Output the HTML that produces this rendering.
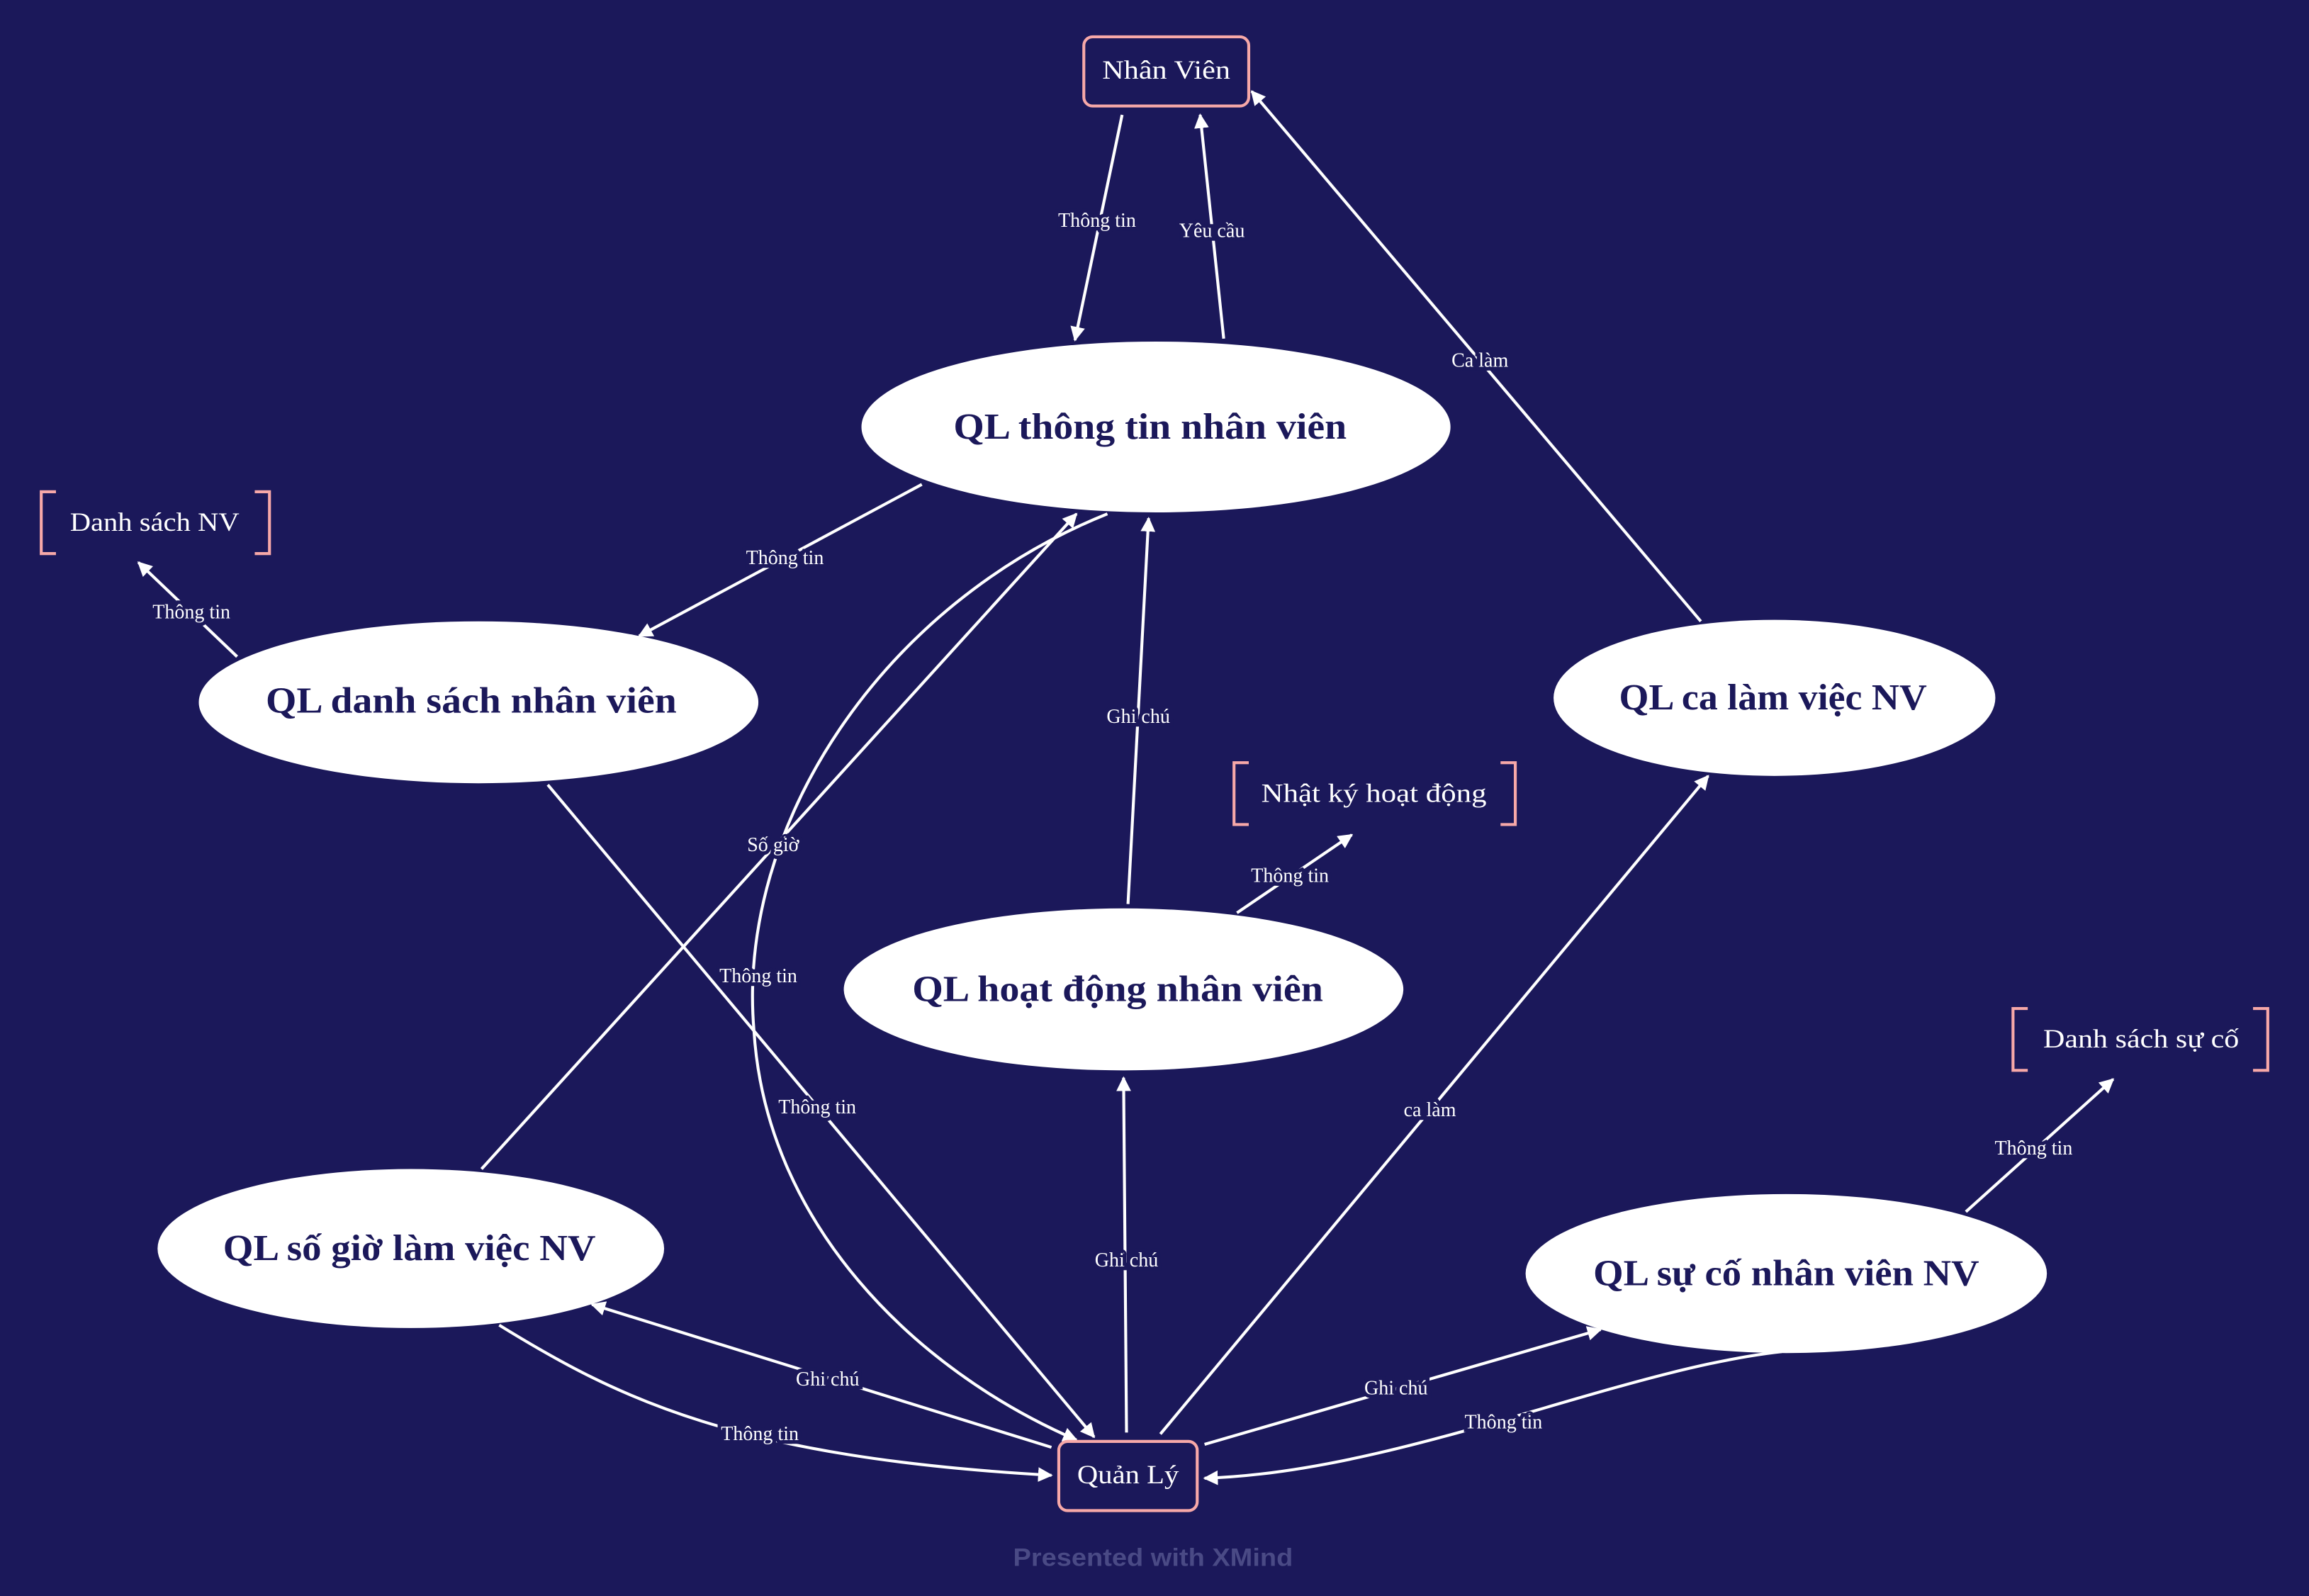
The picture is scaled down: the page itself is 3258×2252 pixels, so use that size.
<!DOCTYPE html>
<html><head><meta charset="utf-8"><style>
html,body{margin:0;padding:0;background:#1b185a;}
svg{display:block}
.n{font-family:"Liberation Serif","DejaVu Serif",serif;font-weight:bold;font-size:25px;fill:#1b185a;text-anchor:middle;dominant-baseline:central}
.b{font-family:"Liberation Serif","DejaVu Serif",serif;font-size:18px;fill:#fff;text-anchor:middle;dominant-baseline:central}
.l{font-family:"Liberation Serif","DejaVu Serif",serif;font-size:13.5px;fill:#fff;text-anchor:middle;dominant-baseline:central;stroke:#1b185a;stroke-width:5px;paint-order:stroke}
.e{stroke:#fff;stroke-width:2;fill:none;marker-end:url(#a)}
</style></head><body>
<svg width="3258" height="2252" viewBox="0 0 1568 1084" preserveAspectRatio="none">
<defs><marker id="a" viewBox="0 0 10 10" refX="9" refY="5" markerWidth="5" markerHeight="5" orient="auto"><path d="M0,0L10,5L0,10z" fill="#fff"/></marker></defs>
<rect width="1568" height="1084" fill="#1b185a"/>
<g>
<path class="e" d="M762,78L730,231"/>
<path class="e" d="M831,230L815,78"/>
<path class="e" d="M1155,422L850,62"/>
<path class="e" d="M626,329L434,432"/>
<path class="e" d="M161,446L94,382"/>
<path class="e" d="M372,533L743,976"/>
<path class="e" d="M327,794L731,349"/>
<path class="e" d="M752,349C600,410 500,560 512,700C520,830 620,930 731,978"/>
<path class="e" d="M766,614L780,352"/>
<path class="e" d="M840,620L918,567"/>
<path class="e" d="M765,973L763,732"/>
<path class="e" d="M788,974L1160,527"/>
<path class="e" d="M714,983L402,886"/>
<path class="e" d="M339,900C420,950 500,990 714,1002"/>
<path class="e" d="M818,981L1087,903"/>
<path class="e" d="M1210,918C1100,930 950,1000 818,1004"/>
<path class="e" d="M1335,823L1435,733"/>
</g>
<g>
<text class="l" x="745" y="150">Thông tin</text>
<text class="l" x="823" y="157">Yêu cầu</text>
<text class="l" x="1005" y="245">Ca làm</text>
<text class="l" x="533" y="379">Thông tin</text>
<text class="l" x="130" y="416">Thông tin</text>
<text class="l" x="555" y="752">Thông tin</text>
<text class="l" x="525" y="574">Số giờ</text>
<text class="l" x="515" y="663">Thông tin</text>
<text class="l" x="773" y="487">Ghi chú</text>
<text class="l" x="876" y="595">Thông tin</text>
<text class="l" x="765" y="856">Ghi chú</text>
<text class="l" x="971" y="754">ca làm</text>
<text class="l" x="562" y="937">Ghi chú</text>
<text class="l" x="516" y="974">Thông tin</text>
<text class="l" x="948" y="943">Ghi chú</text>
<text class="l" x="1021" y="966">Thông tin</text>
<text class="l" x="1381" y="780">Thông tin</text>
</g>
<rect x="736" y="25" width="112" height="47" rx="6" fill="#1b185a" stroke="#f7a8a8" stroke-width="2"/>
<text class="b" x="792" y="48" textLength="87" lengthAdjust="spacingAndGlyphs">Nhân Viên</text>
<rect x="719" y="979" width="94" height="47" rx="6" fill="#1b185a" stroke="#f7a8a8" stroke-width="2"/>
<text class="b" x="766" y="1002" textLength="69" lengthAdjust="spacingAndGlyphs">Quản Lý</text>
<g fill="#fff">
<ellipse cx="785" cy="290" rx="200" ry="58"/>
<ellipse cx="325" cy="477" rx="190" ry="55"/>
<ellipse cx="1205" cy="474" rx="150" ry="53"/>
<ellipse cx="763" cy="672" rx="190" ry="55"/>
<ellipse cx="279" cy="848" rx="172" ry="54"/>
<ellipse cx="1213" cy="865" rx="177" ry="54"/>
</g>
<text class="n" x="781" y="290" textLength="267" lengthAdjust="spacingAndGlyphs">QL thông tin nhân viên</text>
<text class="n" x="320" y="476" textLength="279" lengthAdjust="spacingAndGlyphs">QL danh sách nhân viên</text>
<text class="n" x="1204" y="474" textLength="209" lengthAdjust="spacingAndGlyphs">QL ca làm việc NV</text>
<text class="n" x="759" y="672" textLength="279" lengthAdjust="spacingAndGlyphs">QL hoạt động nhân viên</text>
<text class="n" x="278" y="848" textLength="253" lengthAdjust="spacingAndGlyphs">QL số giờ làm việc NV</text>
<text class="n" x="1213" y="865" textLength="262" lengthAdjust="spacingAndGlyphs">QL sự cố nhân viên NV</text>
<g stroke="#f7a8a8" stroke-width="2" fill="none">
<path d="M38,334H28V376H38M173,334H183V376H173"/>
<path d="M848,518H838V560H848M1019,518H1029V560H1019"/>
<path d="M1377,685H1367V727H1377M1530,685H1540V727H1530"/>
</g>
<text class="b" x="105" y="355" textLength="115" lengthAdjust="spacingAndGlyphs">Danh sách NV</text>
<text class="b" x="933" y="539" textLength="153" lengthAdjust="spacingAndGlyphs">Nhật ký hoạt động</text>
<text class="b" x="1454" y="706" textLength="133" lengthAdjust="spacingAndGlyphs">Danh sách sự cố</text>
<text x="783" y="1058" font-family="Liberation Sans,sans-serif" font-weight="bold" font-size="17" fill="#4a4a85" text-anchor="middle" dominant-baseline="central" textLength="190" lengthAdjust="spacingAndGlyphs">Presented with XMind</text>
</svg>
</body></html>
